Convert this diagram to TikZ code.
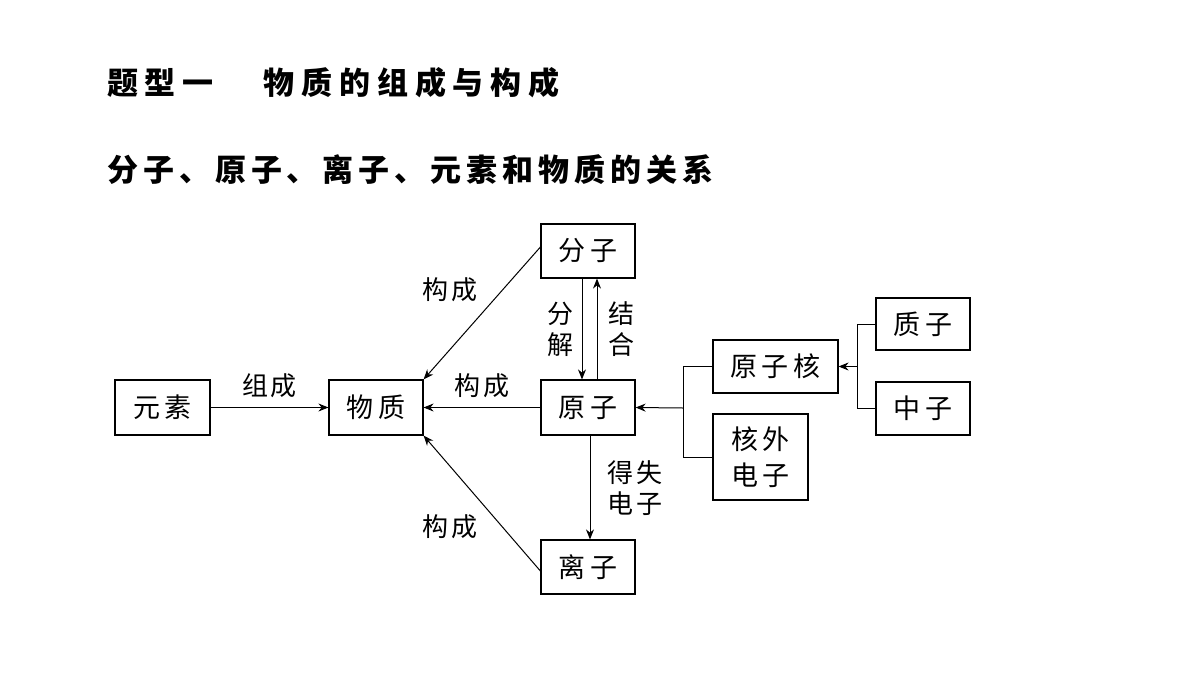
\documentclass[tikz,border=0pt]{standalone}
\usepackage{fontspec}
\setmainfont{Noto Sans CJK SC}
\usetikzlibrary{arrows.meta}
\begin{document}
\begin{tikzpicture}[x=1pt,y=-1pt,
 box/.style={draw,line width=1.2pt,inner sep=0pt,font=\fontsize{27}{32}\selectfont\addfontfeature{LetterSpace=15}},
 lab/.style={font=\fontsize{26}{31}\selectfont\addfontfeature{LetterSpace=10},inner sep=0pt},
 arr/.style={line width=1pt,-{Stealth[length=10pt,width=8pt]}},
 ln/.style={line width=1pt}]
\useasboundingbox (0,0) rectangle (1200,675);
\node[anchor=west,font=\fontsize{31}{36}\selectfont\bfseries\addfontfeature{LetterSpace=22},inner sep=0pt] (t1) at (107,83) {题型一\hspace*{50pt}物质的组成与构成};
\node[anchor=west,font=\fontsize{31}{36}\selectfont\bfseries\addfontfeature{LetterSpace=16},inner sep=0pt] (t2) at (107,170) {分子、原子、离子、元素和物质的关系};
\node[box,minimum width=95,minimum height=55] (yuan) at (162.5,407.5) {元素};
\node[box,minimum width=94,minimum height=55] (wz) at (376,407.5) {物质};
\node[box,minimum width=94,minimum height=54] (fz) at (588,251) {分子};
\node[box,minimum width=94,minimum height=55] (yz) at (588,407.5) {原子};
\node[box,minimum width=94,minimum height=54] (lz) at (588,567) {离子};
\node[box,minimum width=125,minimum height=53] (hz) at (775.5,366.5) {原子核};
\node[box,minimum width=95,minimum height=86,align=center,font=\fontsize{27}{36}\selectfont\addfontfeature{LetterSpace=15}] (hw) at (760.5,457) {核外\\电子};
\node[box,minimum width=94,minimum height=52] (zz) at (923,324) {质子};
\node[box,minimum width=94,minimum height=53] (zhz) at (923,408.5) {中子};
\draw[arr] (yuan) -- node[lab,above=9pt] {组成} (wz);
\draw[arr] (yz) -- node[lab,above=9pt] {构成} (wz);
\coordinate (fa) at ([yshift=4]fz.west);
\draw[arr] (fa) -- (wz.north east);
\node[lab] (l1) at (450,290) {构成};
\coordinate (la) at ([yshift=-4]lz.west);
\draw[arr] (la) -- (wz.south east);
\node[lab] (l2) at (450,527) {构成};
\draw[arr] ([xshift=-6]fz.south) -- ([xshift=-6]yz.north);
\draw[arr] ([xshift=9]yz.north) -- ([xshift=9]fz.south);
\node[lab,align=center] (fj) at (560,329) {分\\解};
\node[lab,align=center] (jh) at (621,329) {结\\合};
\draw[arr] ([xshift=2]yz.south) -- ([xshift=2]lz.north);
\node[lab,align=center] (ds) at (635,488) {得失\\电子};
\coordinate (b1) at (683,366.5);
\coordinate (b2) at (683,457);
\draw[ln] (hz.west) -- (b1) -- (b2) -- (hw.west);
\draw[arr] (683,408) -- (yz.east);
\coordinate (c1) at (857,324);
\coordinate (c2) at (857,408.5);
\draw[ln] (zz.west) -- (c1) -- (c2) -- (zhz.west);
\draw[arr] (857,366.5) -- (hz.east);
\end{tikzpicture}
\end{document}
